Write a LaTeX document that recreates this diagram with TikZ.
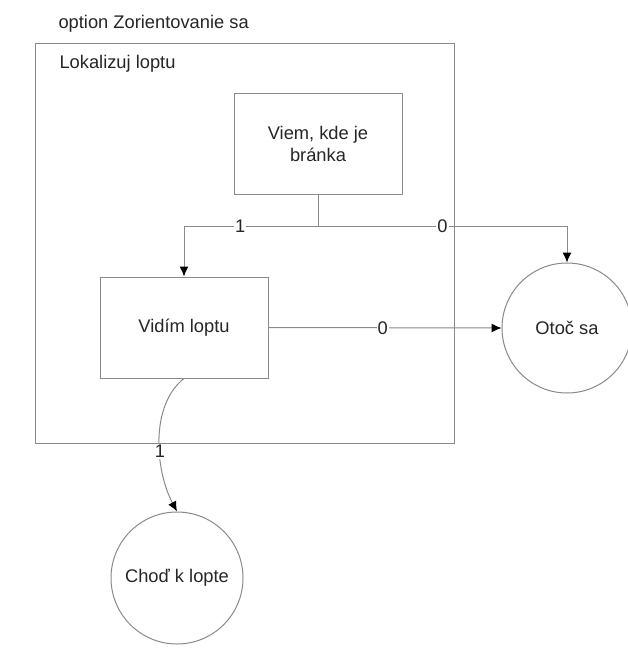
\documentclass[tikz,border=0pt]{standalone}
\usepackage{fontspec}
\setmainfont{Liberation Sans}
\usetikzlibrary{arrows.meta}
\definecolor{linegray}{HTML}{8A8A8A}
\definecolor{txt}{HTML}{262626}
\tikzset{
  every node/.style={font=\fontsize{18.3}{22}\selectfont, text=txt},
  boxnode/.style={draw=linegray, line width=1pt, rectangle, inner sep=0pt, align=center},
  circnode/.style={draw=linegray, line width=1pt, circle, inner sep=0pt, align=center},
  conn/.style={draw=linegray, line width=1pt, -{Latex[length=10pt,width=9pt,color=black]}},
  plainline/.style={draw=linegray, line width=1pt},
  edgelabel/.style={fill=white, inner sep=1pt}
}
\begin{document}
\begin{tikzpicture}[x=1pt,y=-1pt]
\useasboundingbox (0,0) rectangle (627,655);
\fill[white] (0,0) rectangle (627,655);
% outer frame
\node[anchor=west] (title) at (55,24) {option Zorientovanie sa};
\draw[plainline] (35,44) rectangle (454,443);
\node[anchor=west] (lok) at (56,64) {Lokalizuj loptu};
% nodes
\node[boxnode, minimum width=168pt, minimum height=100pt] (viem) at (318,144) {Viem, kde je\\bránka};
\node[boxnode, minimum width=168pt, minimum height=101pt] (vid) at (184,327.5) {Vidím loptu};
\node[circnode, minimum size=130pt] (otoc) at (567,328) {Otoč sa};
\node[circnode, minimum size=132pt] (chod) at (177,578) {Choď k lopte};
% connectors
\coordinate (j) at (318,226);
\draw[plainline] (viem.south) -- (j);
\draw[conn] (j) -| node[edgelabel, pos=0.29] (l1) {1} (vid.north);
\draw[conn] (j) -| node[edgelabel, pos=0.25] (l0) {0} (otoc.north);
\draw[conn] (vid.east) -- node[edgelabel, pos=0.49] (l0b) {0} (otoc.west);
\draw[conn] (vid.south) .. controls (150,405) and (155,470) .. node[edgelabel, pos=0.58] (l1b) {1} (chod.north);
\end{tikzpicture}
\end{document}
